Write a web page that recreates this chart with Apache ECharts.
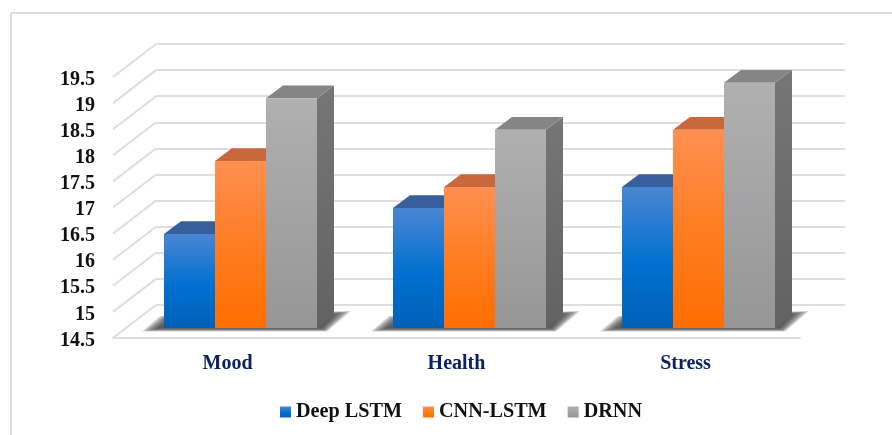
<!DOCTYPE html>
<html>
<head>
<meta charset="utf-8">
<style>html,body{margin:0;padding:0;background:#fff}#chart{width:892px;height:435px}</style>
<script src="https://cdn.jsdelivr.net/npm/echarts@6/dist/echarts.min.js"></script>
</head>
<body>
<div id="chart"></div>
<script>
const categories = ['Mood', 'Health', 'Stress'];
const deepLstm = [16.3, 16.8, 17.2];
const cnnLstm = [17.7, 17.2, 18.3];
const drnn = [18.9, 18.3, 19.2];
const axisMin = 14.5;
const axisMax = 19.5;
const axisStep = 0.5;
const tickValues = [14.5, 15, 15.5, 16, 16.5, 17, 17.5, 18, 18.5, 19, 19.5];

const serif = '"Liberation Serif", serif';
const gridLine = '#dedede';
const barWidthShare = 51 / 229;
const depth = { dx: 17, dy: -12.7 };
const wall = { dx: 43, dy: -33 };
const shadowLayers = 8;

function vGrad(stops) {
  return new echarts.graphic.LinearGradient(0, 0, 0, 1,
    stops.map(s => ({ offset: s[0], color: s[1] })));
}

const palettes = {
  blue: {
    front: () => vGrad([[0, '#4a86d2'], [0.55, '#0070d0'], [1, '#0060b8']]),
    top: '#375f9e', side: () => vGrad([[0, '#2f5a96'], [1, '#1c4a80']])
  },
  orange: {
    front: () => vGrad([[0, '#ff8f52'], [0.5, '#ff7d22'], [1, '#ff6d00']]),
    top: '#c9683a', side: () => vGrad([[0, '#b05a30'], [1, '#a04c10']])
  },
  gray: {
    front: () => vGrad([[0, '#b0b0b0'], [1, '#969696']]),
    top: '#858585', side: () => vGrad([[0, '#767676'], [1, '#626262']])
  }
};

// One extruded column: side and top faces sit behind the front face.
function column(palette, slot) {
  return function (params, api) {
    const i = api.value(0);
    const v = api.value(1);
    const band = api.size([1, 0])[0];
    const w = band * barWidthShare;
    const c = api.coord([i, v]);
    const base = api.coord([i, axisMin]);
    const x0 = c[0] + (slot - 1.5) * w;
    const x1 = x0 + w;
    const yt = c[1];
    const yb = base[1];
    return {
      type: 'group',
      children: [
        { type: 'polygon', shape: { points: [[x1, yt], [x1 + depth.dx, yt + depth.dy], [x1 + depth.dx, yb + depth.dy], [x1, yb]] },
          style: { fill: palette.side() } },
        { type: 'polygon', shape: { points: [[x0, yt], [x0 + depth.dx, yt + depth.dy], [x1 + depth.dx, yt + depth.dy], [x1, yt]] },
          style: { fill: palette.top } },
        { type: 'rect', shape: { x: x0, y: yt, width: w, height: yb - yt },
          style: { fill: palette.front() } }
      ]
    };
  };
}

// Cast shadow on the floor: stacked translucent layers shrink inward so the rim fades out.
function floorShadow(params, api) {
  const i = api.value(0);
  const band = api.size([1, 0])[0];
  const w = band * barWidthShare;
  const base = api.coord([i, axisMin]);
  const x0 = base[0] - 1.5 * w;
  const x1 = base[0] + 1.5 * w;
  const y = base[1];
  const children = [];
  for (let k = 0; k < shadowLayers; k++) {
    const t = k * 1.5;
    children.push({
      type: 'polygon',
      shape: { points: [
        [x0 - 22 + t * 1.5, y + 3.5 - t * 0.3],
        [x0 - 4 + t, y - 12 + t * 0.3],
        [x1 + 34 - t * 1.6, y - 17 + t * 0.3],
        [x1 + 10 - t * 0.5, y + 3.5 - t * 0.3]
      ] },
      style: { fill: 'rgba(60,60,60,0.2)' }
    });
  }
  return { type: 'group', children };
}

// Slanted wall-to-floor lines running back from each tick on the front scale.
function sideWallLine(params, api) {
  const x = params.coordSys.x;
  const y = api.coord([0, api.value(0)])[1];
  return {
    type: 'line',
    shape: { x1: x, y1: y, x2: x + wall.dx, y2: y + wall.dy },
    style: { stroke: gridLine, lineWidth: 2 }
  };
}

function barSeries(name, values, palette, slot) {
  return {
    name, type: 'custom', xAxisIndex: 2, yAxisIndex: 2, z: 5 + slot,
    coordinateSystem: 'cartesian2d',
    itemStyle: { color: palette.front() },
    encode: { x: 0, y: 1 },
    data: values.map((v, i) => [i, v]),
    renderItem: column(palette, slot),
    silent: true
  };
}

function hiddenX(gridIndex) {
  return { type: 'category', gridIndex, data: categories, show: false };
}
function valueY(gridIndex, extra) {
  return Object.assign({ type: 'value', gridIndex, min: axisMin, max: axisMax, interval: axisStep,
    axisTick: { show: false }, axisLine: { show: false } }, extra);
}

const chart = echarts.init(document.getElementById('chart'), null, { renderer: 'canvas' });
chart.setOption({
  animation: false,
  backgroundColor: '#ffffff',
  graphic: [{
    type: 'rect', z: 0, silent: true,
    shape: { x: 11, y: 13, width: 900, height: 440 },
    style: { fill: 'none', stroke: '#dddddd', lineWidth: 2 }
  }],
  grid: [
    { left: 113, top: 77, width: 687, height: 261 },
    { left: 156, top: 44, width: 689, height: 261 },
    { left: 126, top: 67, width: 687, height: 261 },
    // Carries only the tick labels, set slightly below the tick lines.
    { left: 113, top: 79.5, width: 687, height: 261 }
  ],
  xAxis: [
    { type: 'category', gridIndex: 0, data: categories,
      axisLine: { show: true, lineStyle: { color: gridLine, width: 2 } },
      axisTick: { show: false },
      axisLabel: { margin: 16, fontFamily: serif, fontWeight: 'bold', fontSize: 20, color: '#0c2163' } },
    hiddenX(1),
    hiddenX(2),
    hiddenX(3)
  ],
  yAxis: [
    valueY(0, { axisLabel: { show: false }, splitLine: { show: false } }),
    valueY(1, { axisLabel: { show: false }, splitLine: { show: true, lineStyle: { color: gridLine, width: 2 } } }),
    valueY(2, { show: false }),
    valueY(3, { splitLine: { show: false },
      axisLabel: { margin: 18, fontFamily: serif, fontWeight: 'bold', fontSize: 20, color: '#111111',
        showMinLabel: true, showMaxLabel: true } })
  ],
  legend: {
    left: 275, top: 397, itemWidth: 11, itemHeight: 11, itemGap: 21,
    icon: 'rect',
    textStyle: { fontFamily: serif, fontWeight: 'bold', fontSize: 20.2, color: '#111111' },
    data: ['Deep LSTM', 'CNN-LSTM', 'DRNN']
  },
  series: [
    { type: 'custom', xAxisIndex: 0, yAxisIndex: 0, z: 1, silent: true,
      data: tickValues.map(v => [v]), encode: { y: 0 }, renderItem: sideWallLine },
    { type: 'custom', xAxisIndex: 2, yAxisIndex: 2, z: 2, silent: true,
      data: categories.map((c, i) => [i]), encode: { x: 0 }, renderItem: floorShadow },
    barSeries('Deep LSTM', deepLstm, palettes.blue, 0),
    barSeries('CNN-LSTM', cnnLstm, palettes.orange, 1),
    barSeries('DRNN', drnn, palettes.gray, 2)
  ]
});
</script>
</body>
</html>
